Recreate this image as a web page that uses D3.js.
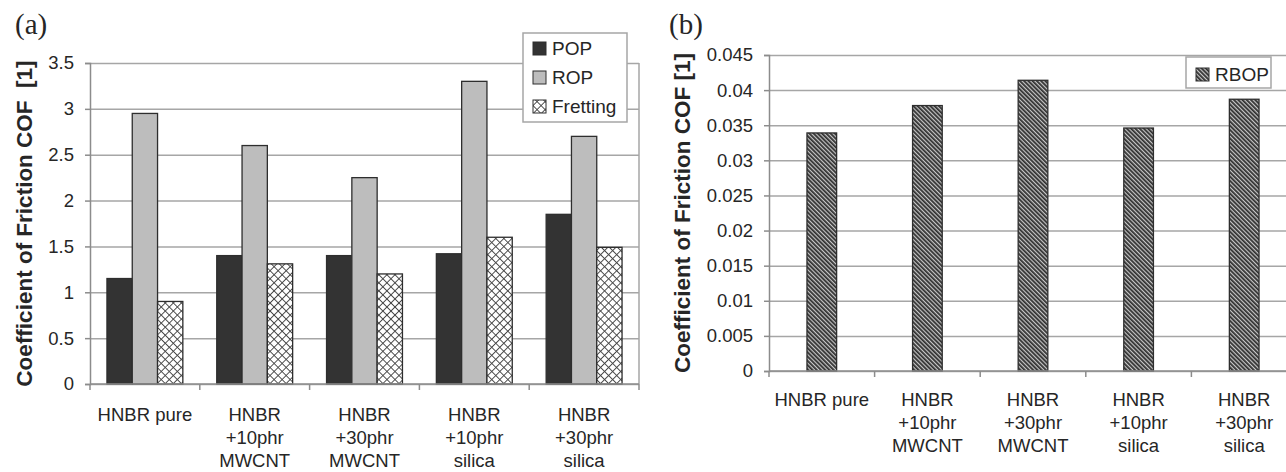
<!DOCTYPE html>
<html>
<head>
<meta charset="utf-8">
<script src="https://cdnjs.cloudflare.com/ajax/libs/d3/7.8.5/d3.min.js"></script>
<style>
body { margin: 0; background: #fff; overflow: hidden; }
text { font-family: "Liberation Sans", Arial, sans-serif; fill: #262626; }
</style>
</head>
<body>
<div id="grid-container"></div>
<script>
// categories (same for both panels)
var categories = ["HNBR pure", "HNBR\n+10phr\nMWCNT", "HNBR\n+30phr\nMWCNT", "HNBR\n+10phr\nsilica", "HNBR\n+30phr\nsilica"];

// panel (a)
var seriesA = ["POP", "ROP", "Fretting"];
var pop = [1.15, 1.40, 1.40, 1.42, 1.85];
var rop = [2.95, 2.60, 2.25, 3.30, 2.70];
var fretting = [0.90, 1.31, 1.20, 1.60, 1.49];
var ticksA = [0, 0.5, 1, 1.5, 2, 2.5, 3, 3.5];

// panel (b)
var seriesB = ["RBOP"];
var rbop = [0.0339, 0.0378, 0.0414, 0.0346, 0.0387];
var ticksB = [0, 0.005, 0.01, 0.015, 0.02, 0.025, 0.03, 0.035, 0.04, 0.045];

var svg = d3.select("#grid-container")
  .append("svg")
    .attr("width", 1286)
    .attr("height", 472);

/* patterns */
var defs = svg.append("defs");
var cross = defs.append("pattern")
    .attr("id", "pat-cross")
    .attr("patternUnits", "userSpaceOnUse")
    .attr("width", 5.7).attr("height", 5.7)
    .attr("patternTransform", "rotate(45)");
cross.append("rect").attr("width", 5.7).attr("height", 5.7).attr("fill", "#fff");
cross.append("line").attr("x1", 0).attr("y1", 0).attr("x2", 5.7).attr("y2", 0)
    .attr("stroke", "#484848").attr("stroke-width", 1.9);
cross.append("line").attr("x1", 0).attr("y1", 0).attr("x2", 0).attr("y2", 5.7)
    .attr("stroke", "#484848").attr("stroke-width", 1.9);

var diag = defs.append("pattern")
    .attr("id", "pat-diag")
    .attr("patternUnits", "userSpaceOnUse")
    .attr("width", 3).attr("height", 3)
    .attr("patternTransform", "rotate(-45)");
diag.append("rect").attr("width", 3).attr("height", 3).attr("fill", "#c8c8c8");
diag.append("line").attr("x1", 0.9).attr("y1", 0).attr("x2", 0.9).attr("y2", 3)
    .attr("stroke", "#303030").attr("stroke-width", 1.8);

var fills = {
	"POP": "#333333",
	"ROP": "#bdbdbd",
	"Fretting": "url(#pat-cross)",
	"RBOP": "url(#pat-diag)"
};

function drawPanel(cfg){
	var g = svg.append("g");

	var y = d3.scaleLinear()
	    .domain([0, d3.max(cfg.ticks)])
	    .range([cfg.bottom, cfg.top]);

	var x0 = d3.scaleBand()
	    .domain(categories)
	    .range([cfg.left, cfg.right])
	    .padding(0);

	var x1 = d3.scaleBand()
	    .domain(cfg.series)
	    .range([0, x0.bandwidth()])
	    .paddingInner(0)
	    .paddingOuter(cfg.outerPad);

	// gridlines
	g.append("g")
	    .attr("transform", "translate(" + cfg.left + ",0)")
	    .call(d3.axisLeft(y).tickValues(cfg.ticks).tickSize(-(cfg.right - cfg.left)).tickFormat(""))
	    .call(function(s){ s.select(".domain").remove(); })
	    .selectAll("line").attr("stroke", "#a6a6a6").attr("stroke-width", 1.5);

	// plot frame (right side)
	g.append("line")
	    .attr("x1", cfg.right).attr("x2", cfg.right)
	    .attr("y1", y(d3.max(cfg.ticks))).attr("y2", y(0))
	    .attr("stroke", "#a6a6a6").attr("stroke-width", 1.5);

	// bars
	var rows = [];
	categories.forEach(function(c, i){
		cfg.series.forEach(function(s, j){
			rows.push({cat: c, key: s, value: cfg.values[j][i]});
		});
	});
	g.selectAll("rect.bar")
	    .data(rows)
	    .enter()
	    .append("rect")
	      .attr("class", "bar")
	      .attr("x", function(d){ return x0(d.cat) + x1(d.key); })
	      .attr("y", function(d){ return y(d.value); })
	      .attr("width", x1.bandwidth())
	      .attr("height", function(d){ return y(0) - y(d.value); })
	      .attr("fill", function(d){ return fills[d.key]; })
	      .attr("stroke", "#2e2e2e")
	      .attr("stroke-width", 1.3);

	// y axis
	var ya = g.append("g")
	    .attr("transform", "translate(" + cfg.left + ",0)")
	    .call(d3.axisLeft(y).tickValues(cfg.ticks).tickSize(5).tickPadding(11)
	        .tickFormat(function(d){ return String(d); }));
	ya.selectAll("line, path").attr("stroke", "#8c8c8c").attr("stroke-width", 1.5);
	ya.selectAll("text").attr("font-size", "18.5px").attr("font-family", "Liberation Sans, Arial, sans-serif").attr("fill", "#2b2b2b");

	// x axis line and category boundary ticks
	g.append("line")
	    .attr("x1", cfg.left).attr("x2", cfg.right)
	    .attr("y1", y(0)).attr("y2", y(0))
	    .attr("stroke", "#8c8c8c").attr("stroke-width", 1.5);
	var bounds = categories.map(function(c){ return x0(c); }).concat([x0(categories[categories.length - 1]) + x0.step()]);
	g.selectAll("line.ctick")
	    .data(bounds)
	    .enter()
	    .append("line")
	      .attr("class", "ctick")
	      .attr("x1", function(d){ return d; }).attr("x2", function(d){ return d; })
	      .attr("y1", y(0)).attr("y2", y(0) + 6)
	      .attr("stroke", "#8c8c8c").attr("stroke-width", 1.5);

	// category labels
	var lab = g.selectAll("text.cat")
	    .data(categories)
	    .enter()
	    .append("text")
	      .attr("class", "cat")
	      .attr("text-anchor", "middle")
	      .attr("font-size", "18.5px")
	      .attr("transform", function(d){ return "translate(" + (x0(d) + x0.bandwidth() / 2) + "," + (y(0) + cfg.labelOffset) + ")"; });
	lab.selectAll("tspan")
	    .data(function(d){ return d.split("\n"); })
	    .enter()
	    .append("tspan")
	      .attr("x", 0)
	      .attr("y", function(d, i){ return i * 23; })
	      .text(function(d){ return d; });

	// y title
	g.append("text")
	    .attr("transform", "translate(" + cfg.titleX + "," + ((y(0) + y(d3.max(cfg.ticks))) / 2) + ") rotate(-90)")
	    .attr("text-anchor", "middle")
	    .attr("font-size", "22.5px")
	    .attr("font-weight", "bold")
	    .style("white-space", "pre")
	    .text(cfg.yTitle);

	// panel letter
	g.append("text")
	    .attr("x", cfg.letterX).attr("y", 34)
	    .style("font-family", "'Liberation Serif', 'Times New Roman', serif")
	    .attr("font-size", "29px")
	    .text(cfg.letter);

	// legend
	var lg = g.append("g");
	lg.append("rect")
	    .attr("x", cfg.legend.x).attr("y", cfg.legend.y)
	    .attr("width", cfg.legend.w).attr("height", cfg.legend.h)
	    .attr("fill", "#fff").attr("stroke", "#a6a6a6").attr("stroke-width", 1.5);
	var items = lg.selectAll("g.item")
	    .data(cfg.series)
	    .enter()
	    .append("g")
	      .attr("class", "item")
	      .attr("transform", function(d, i){ return "translate(" + (cfg.legend.x + 10) + "," + (cfg.legend.y + cfg.legend.first + i * 29) + ")"; });
	items.append("rect")
	    .attr("x", 0).attr("y", -13)
	    .attr("width", 13).attr("height", 13)
	    .attr("fill", function(d){ return fills[d]; })
	    .attr("stroke", "#2e2e2e").attr("stroke-width", 1);
	items.append("text")
	    .attr("x", 19).attr("y", 0)
	    .attr("font-size", "19px")
	    .text(function(d){ return d; });
}

drawPanel({
	series: seriesA,
	values: [pop, rop, fretting],
	ticks: ticksA,
	left: 90, right: 639, top: 63, bottom: 384,
	outerPad: 0.67,
	labelOffset: 37,
	titleX: 32,
	yTitle: "Coefficient of Friction COF  [1]",
	letter: "(a)", letterX: 15,
	legend: {x: 523, y: 33, w: 104, h: 89, first: 22}
});

drawPanel({
	series: seriesB,
	values: [rbop],
	ticks: ticksB,
	left: 769, right: 1297, top: 55, bottom: 371,
	outerPad: 1.28,
	labelOffset: 35,
	titleX: 690,
	yTitle: "Coefficient of Friction COF [1]",
	letter: "(b)", letterX: 669,
	legend: {x: 1186, y: 57, w: 85, h: 31, first: 24}
});
</script>
</body>
</html>
